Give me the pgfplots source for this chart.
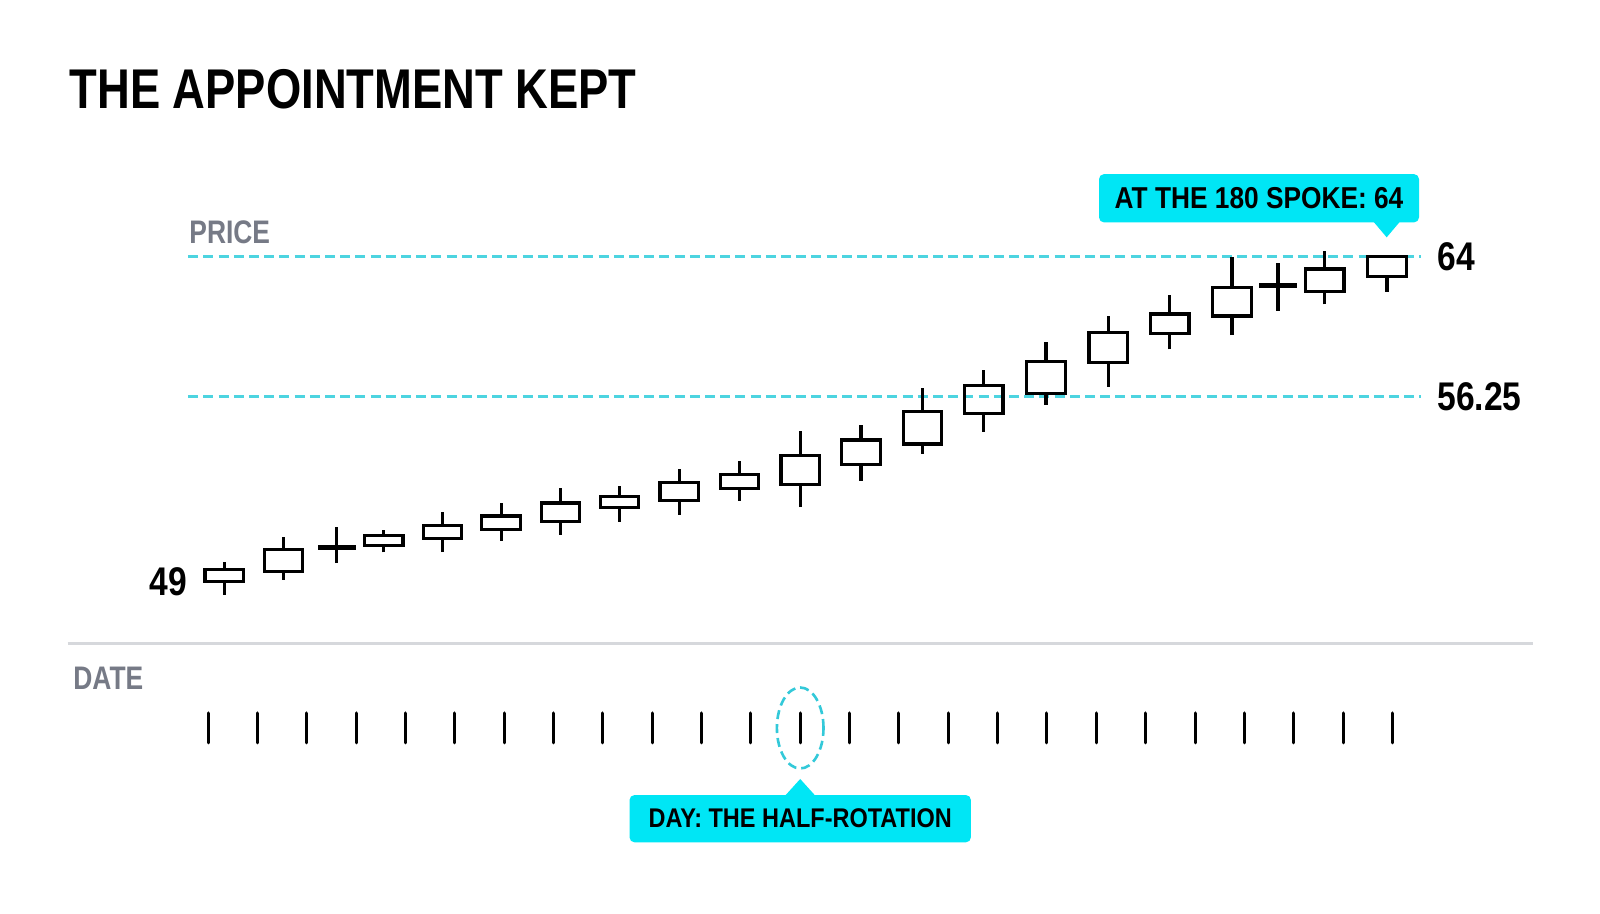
\documentclass[border=0pt]{standalone}
\usepackage{pgfplots}
\pgfplotsset{compat=1.18}
\usepackage{fontspec}
\setmainfont{Liberation Sans}[FakeStretch=0.81]
\newfontfamily\callfont{Liberation Sans}[FakeStretch=0.87]
\newfontfamily\numfont{Liberation Sans}[FakeStretch=0.84]

\definecolor{guide}{HTML}{4DD4E0}
\definecolor{callout}{HTML}{00E6F5}
\definecolor{ring}{HTML}{33C9D9}
\definecolor{axlabel}{HTML}{767A86}
\definecolor{rulegrey}{HTML}{D6D8DC}

% \candle[half width]{day}{low}{body low}{body high}{high}
\newcommand{\candle}[6][0.39]{%
  \pgfmathsetmacro\xl{#2-#1}\pgfmathsetmacro\xr{#2+#1}%
  \addplot[black, line width=1.6pt] coordinates {(#2,#3) (#2,#4)};
  \addplot[black, line width=1.6pt] coordinates {(#2,#5) (#2,#6)};
  \addplot[black, line width=1.6pt, line cap=rect, line join=miter]
    coordinates {(\xl,#4) (\xr,#4) (\xr,#5) (\xl,#5) (\xl,#4)};}

\begin{document}
\begin{tikzpicture}
\path[use as bounding box, fill=white] (0,0) rectangle (800pt,457pt);

\node[anchor=base west, inner sep=0, font=\fontsize{28}{32}\selectfont\bfseries]
  at (34.6pt,402.85pt) {THE APPOINTMENT KEPT};
\node[anchor=base west, inner sep=0, text=axlabel, font=\fontsize{16.3}{18}\selectfont\bfseries]
  at (94.5pt,335.35pt) {PRICE};
\node[anchor=base west, inner sep=0, text=axlabel, font=\fontsize{16.3}{18}\selectfont\bfseries]
  at (36.5pt,112pt) {DATE};
\draw[rulegrey, line width=1.5pt] (33.75pt,135.35pt) -- (766.35pt,135.35pt);

% price panel
\begin{axis}[
  at={(79.325pt,147.75pt)}, anchor=south west,
  x=24.675pt, y=9.045pt,
  xmin=-1, xmax=25, ymin=44, ymax=68,
  hide axis, clip=false,
]
\addplot[guide, line width=1.4pt, dash pattern=on 5pt off 2.6pt] coordinates {(-0.40,64) (24.57,64)};
\addplot[guide, line width=1.4pt, dash pattern=on 5pt off 2.6pt] coordinates {(-0.40,56.25) (24.57,56.25)};

\candle{0.33}{45.31}{46.04}{46.69}{47.15}
\candle{1.53}{46.14}{46.60}{47.83}{48.50}
\candle[0.35]{2.61}{47.06}{47.87}{47.97}{49.03}
\candle{3.56}{47.65}{48.02}{48.57}{48.90}
\candle{4.75}{47.67}{48.44}{49.12}{49.91}
\candle{5.94}{48.29}{48.90}{49.67}{50.38}
\candle{7.14}{48.62}{49.36}{50.38}{51.20}
\candle{8.34}{49.36}{50.13}{50.74}{51.33}
\candle{9.55}{49.73}{50.52}{51.51}{52.25}
\candle{10.77}{50.50}{51.17}{51.94}{52.73}
\candle{12.00}{50.15}{51.39}{53.01}{54.37}
\candle{13.23}{51.62}{52.51}{53.87}{54.70}
\candle{14.48}{53.10}{53.65}{55.44}{56.76}
\candle{15.72}{54.33}{55.31}{56.87}{57.74}
\candle{16.98}{55.81}{56.45}{58.20}{59.27}
\candle{18.24}{56.82}{58.17}{59.80}{60.71}
\candle{19.49}{58.88}{59.77}{60.83}{61.88}
\candle{20.75}{59.67}{60.72}{62.31}{64.00}
\candle[0.35]{21.68}{61.02}{62.35}{62.45}{63.67}
\candle{22.63}{61.37}{62.07}{63.32}{64.31}
\candle{23.89}{62.07}{62.90}{64.00}{64.00}

\node[anchor=west, inner sep=0, font=\numfont\fontsize{20}{22}\selectfont\bfseries] at (axis cs:24.904,64) {64};
\node[anchor=west, inner sep=0, font=\numfont\fontsize{20}{22}\selectfont\bfseries] at (axis cs:24.904,56.25) {56.25};
\node[anchor=east, inner sep=0, font=\numfont\fontsize{20}{22}\selectfont\bfseries] at (axis cs:-0.419,46.03) {49};

\fill[callout] (axis cs:23.884,65.07) -- ++(-6.75pt,8pt) -- ++(13.5pt,0pt) -- cycle;
\node[fill=callout, rounded corners=2.5pt, minimum width=160pt, minimum height=24.15pt, inner sep=0,
  font=\callfont\fontsize{15.1}{18}\selectfont\bfseries]
  at (axis cs:21.297,67.23) {AT THE 180 SPOKE: 64};
\end{axis}

% date panel
\begin{axis}[
  at={(79.325pt,93pt)}, anchor=south west,
  x=24.675pt, y=50pt,
  xmin=-1, xmax=25, ymin=0, ymax=1,
  axis x line*=bottom, axis y line=none,
  axis line style={draw=none},
  xtick={0,...,24}, xticklabels={},
  tick align=center, major tick length=15pt,
  xtick style={black, line width=1.5pt, line cap=round},
  clip=false,
]
\draw[ring, line width=1.3pt, dash pattern=on 4.5pt off 2.5pt]
  (axis cs:12,0) ellipse [x radius=11.65pt, y radius=20.25pt];
\fill[callout] (axis cs:12,-0.51) -- ++(-7.5pt,-8.3pt) -- ++(15pt,0pt) -- cycle;
\node[fill=callout, rounded corners=2.5pt, minimum width=170.7pt, minimum height=23.65pt, inner sep=0,
  font=\callfont\fontsize{13.5}{16}\selectfont\bfseries]
  at (axis cs:12,-0.907) {DAY: THE HALF-ROTATION};
\end{axis}
\end{tikzpicture}
\end{document}
